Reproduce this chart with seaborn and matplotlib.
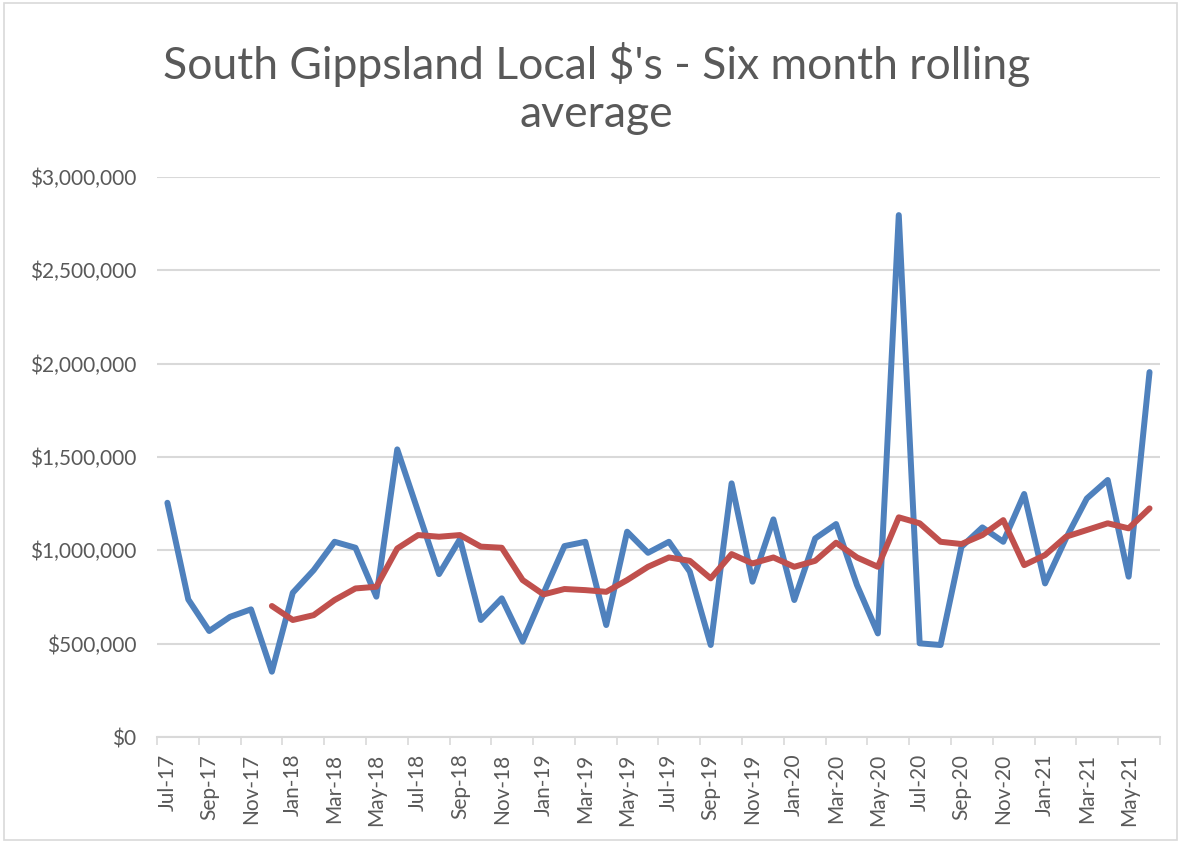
import numpy as np
import pandas as pd
import matplotlib.pyplot as plt
import seaborn as sns
from matplotlib.patches import Rectangle
from matplotlib.ticker import FuncFormatter

# monthly local $ values, Jul-17 .. Jun-21
monthly = [1255000, 737000, 568000, 644000, 684000, 350000, 773000, 894000,
           1046000, 1014000, 752000, 1541000, 1207000, 873000, 1060000, 627000,
           743000, 511000, 770000, 1023000, 1046000, 600000, 1100000, 987000,
           1046000, 886000, 493000, 1359000, 832000, 1166000, 734000, 1064000,
           1141000, 814000, 555000, 2796000, 502000, 493000, 1019000, 1123000,
           1046000, 1302000, 823000, 1064000, 1278000, 1377000, 859000, 1955000]

# six month rolling average
rolling = [np.nan, np.nan, np.nan, np.nan, np.nan, 702000, 627000, 653000,
           734000, 796000, 805000, 1010000, 1082000, 1073000, 1082000, 1020000,
           1014000, 841000, 764000, 793000, 787000, 778000, 841000, 912000,
           962000, 944000, 850000, 980000, 930000, 962000, 912000, 944000,
           1041000, 962000, 912000, 1177000, 1145000, 1046000, 1034000, 1082000,
           1162000, 921000, 975000, 1073000, 1109000, 1145000, 1118000, 1225000]

months = pd.date_range('2017-07-01', periods=48, freq='MS').strftime('%b-%y').tolist()

df = pd.DataFrame({'pos': range(len(months)), 'month': months,
                   'monthly': monthly, 'rolling': rolling})

sns.set_style('white')
plt.rcParams['font.family'] = ['Lato', 'DejaVu Sans']

fig = plt.figure(figsize=(11.81, 8.43), dpi=100)
ax = fig.add_axes([0.1329, 0.1257, 0.9822 - 0.1329, 0.79 - 0.1257])

sns.lineplot(data=df, x='pos', y='monthly', color='#4F81BD', linewidth=4.3, ax=ax)
sns.lineplot(data=df, x='pos', y='rolling', color='#C0504D', linewidth=4.3, ax=ax)

ax.set_xlim(-0.5, len(months) - 0.5)
ax.set_ylim(0, 3000000)
ax.set_yticks(np.arange(0, 3000001, 500000))
ax.yaxis.set_major_formatter(FuncFormatter(lambda v, p: '${:,.0f}'.format(v)))
ax.grid(axis='y', color='#d9d9d9', linewidth=1.5)
ax.set_axisbelow(True)

ax.set_xticks(range(0, len(months), 2))
ax.set_xticklabels(months[::2], rotation=90)
ax.set_xticks(np.arange(-0.5, len(months), 2), minor=True)
ax.tick_params(axis='x', which='major', length=0, pad=12, labelsize=15, labelcolor='#595959')
ax.tick_params(axis='x', which='minor', length=6, width=1.2, color='#d9d9d9', bottom=True)
ax.tick_params(axis='y', length=0, pad=15, labelsize=15, labelcolor='#595959')

for s in ['top', 'right', 'left']:
    ax.spines[s].set_visible(False)
ax.spines['bottom'].set_color('#d9d9d9')
ax.spines['bottom'].set_linewidth(1.5)

ax.set_xlabel('')
ax.set_ylabel('')

fig.text(0.505, 0.895, "South Gippsland Local $'s - Six month rolling\naverage",
         ha='center', va='center', fontsize=32, color='#595959', linespacing=1.2)

fig.patches.append(Rectangle((0.003, 0.003), 0.994, 0.994, transform=fig.transFigure,
                             fill=False, edgecolor='#d9d9d9', linewidth=1.2))

plt.savefig('out.png', dpi=100)
